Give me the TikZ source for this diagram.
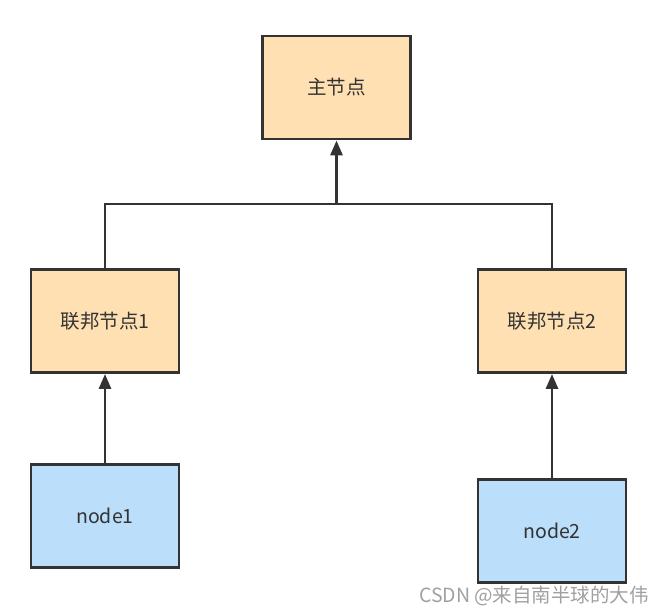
\documentclass[tikz,border=0pt]{standalone}
\usepackage{fontspec}
\setmainfont{Noto Sans CJK SC}
\usetikzlibrary{arrows.meta}
\definecolor{orangefill}{HTML}{FFE0B2}
\definecolor{bluefill}{HTML}{BBDEFB}
\definecolor{edge}{HTML}{333333}
\definecolor{wm}{HTML}{A0A0A0}
\begin{document}
\begin{tikzpicture}[x=1pt,y=-1pt,
  box/.style={draw=edge,line width=2.9pt,minimum width=148pt,minimum height=103pt,inner sep=0pt,text=edge,font=\fontsize{19.5}{22}\selectfont},
  obox/.style={box,fill=orangefill},
  bbox/.style={box,fill=bluefill},
  conn/.style={draw=edge,line width=2.9pt},
  arr/.style={conn,-{Triangle[length=15pt,width=12pt]}}]
\useasboundingbox (0,0) rectangle (664,614);
\node[obox] (main) at (336.5,87.5) {主节点};
\node[obox] (f1) at (105,321) {联邦节点1};
\node[obox] (f2) at (552,321) {联邦节点2};
\node[bbox] (n1) at (105,516) {node1};
\node[bbox] (n2) at (552,531) {node2};
\coordinate (j) at (336.5,204);
\draw[conn] (f1.north) |- (j) -| (f2.north);
\draw[arr] (j) -- (main.south);
\draw[arr] (n1.north) -- (f1.south);
\draw[arr] (n2.north) -- (f2.south);
\node[text=wm,font=\fontsize{19.5}{22}\selectfont,inner sep=0pt] (wmk) at (534,596) {CSDN @来自南半球的大伟};
\end{tikzpicture}
\end{document}
